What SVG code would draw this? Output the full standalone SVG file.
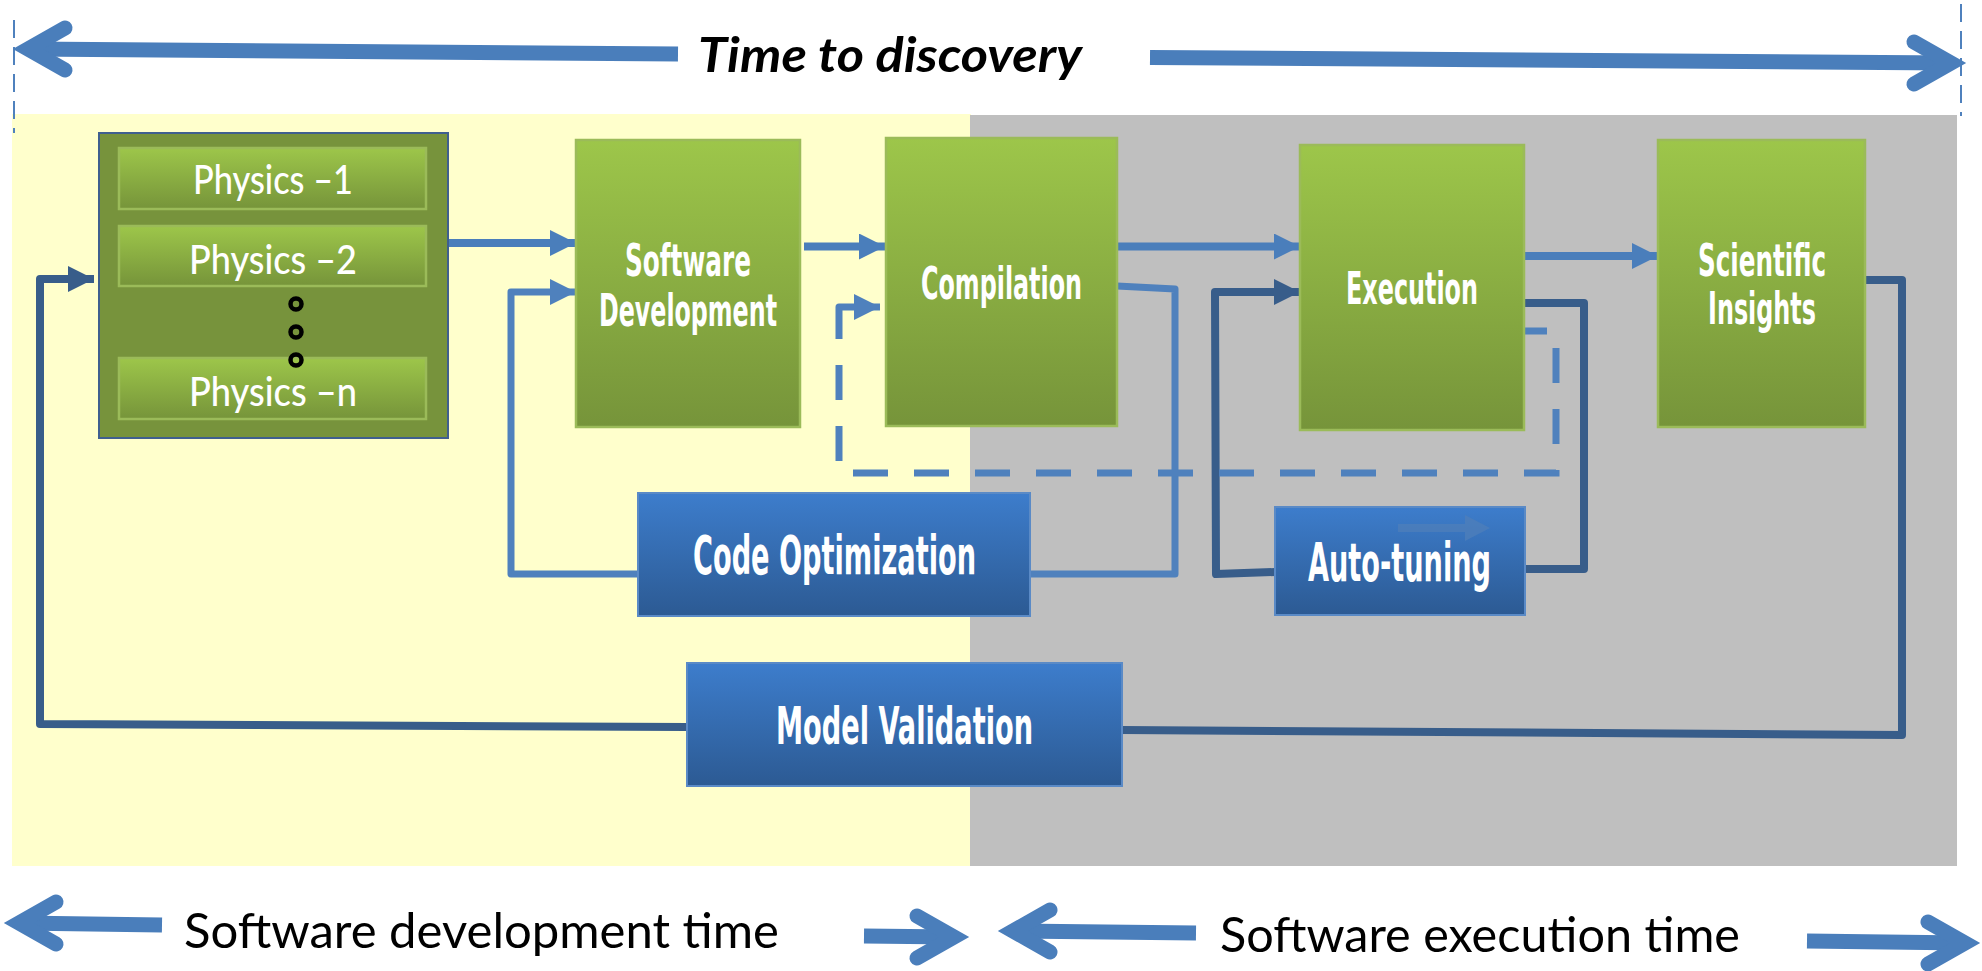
<svg xmlns="http://www.w3.org/2000/svg" width="1982" height="971" viewBox="0 0 1982 971">
  <style>
    .bigarrow { fill: none; stroke: #4A7EBB; stroke-width: 15; }
    .bigarrow-head { fill: none; stroke: #4A7EBB; stroke-width: 15; stroke-linejoin: miter; stroke-miterlimit: 10; stroke-linecap: round; }
    .guide { fill: none; stroke: #4F81BD; stroke-width: 2; stroke-dasharray: 18 9; }
    .flow { fill: none; stroke: #4A7EBB; stroke-width: 8; }
    .loop { fill: none; stroke: #4F81BD; stroke-width: 7; stroke-linejoin: round; }
    .dark { fill: none; stroke: #385D8A; stroke-width: 8; stroke-linejoin: round; }
    .dash { fill: none; stroke: #4F81BD; stroke-width: 7; stroke-dasharray: 35 26; }
    .green { fill: url(#gGreen); stroke: #9BBB59; stroke-width: 2.5; }
    .blue { fill: url(#gBlue); stroke: #5A8AC6; stroke-width: 2; }
    .lbl { fill: #FFFFFF; font-family: "Liberation Sans Narrow", "DejaVu Sans Condensed", "Roboto Condensed", sans-serif; font-weight: bold; font-stretch: condensed; }
    .phys { fill: #FFFFFF; font-family: Lato, "Open Sans", "Liberation Sans", sans-serif; font-size: 41px; font-weight: 500; }
    .axis { fill: #000000; font-family: Lato, "Open Sans", "Liberation Sans", sans-serif; font-size: 48px; }
    .dot { fill: none; stroke: #000000; stroke-width: 4.5; }
  </style>
  <defs>
    <linearGradient id="gGreen" x1="0" y1="0" x2="0" y2="1">
      <stop offset="0" stop-color="#9DC64A"/>
      <stop offset="1" stop-color="#76943A"/>
    </linearGradient>
    <linearGradient id="gBlue" x1="0" y1="0" x2="0" y2="1">
      <stop offset="0" stop-color="#3D7DCC"/>
      <stop offset="1" stop-color="#2C5A93"/>
    </linearGradient>
    <marker id="ahMid" markerUnits="userSpaceOnUse" markerWidth="26" markerHeight="26" refX="26" refY="13" orient="auto">
      <path d="M0,0 L26,13 L0,26 Z" fill="#4A7EBB"/>
    </marker>
    <marker id="ahLight" markerUnits="userSpaceOnUse" markerWidth="26" markerHeight="26" refX="26" refY="13" orient="auto">
      <path d="M0,0 L26,13 L0,26 Z" fill="#4F81BD"/>
    </marker>
    <marker id="ahDark" markerUnits="userSpaceOnUse" markerWidth="26" markerHeight="26" refX="26" refY="13" orient="auto">
      <path d="M0,0 L26,13 L0,26 Z" fill="#385D8A"/>
    </marker>
  </defs>

  <!-- phase backgrounds -->
  <rect x="12" y="114" width="959" height="752" fill="#FFFFCC"/>
  <rect x="970" y="115" width="987" height="751" fill="#BFBFBF"/>

  <!-- time-to-discovery axis -->
  <g id="axis-top">
    <line class="guide" x1="14" y1="20" x2="14" y2="133"/>
    <line class="guide" x1="1961" y1="4" x2="1961" y2="116"/>
    <path class="bigarrow" d="M28,49 L678,54"/>
    <polyline class="bigarrow-head" points="65,28 28,49 65,70"/>
    <path class="bigarrow" d="M1150,57.5 L1951,63"/>
    <polyline class="bigarrow-head" points="1914,42 1951,63 1914,84"/>
    <text x="698" y="72" font-family="Lato, 'Open Sans', 'Liberation Sans', sans-serif" font-size="48" font-weight="bold" font-style="italic" textLength="384" lengthAdjust="spacingAndGlyphs">Time to discovery</text>
  </g>

  <!-- phase axes at the bottom -->
  <g id="axis-bottom">
    <path class="bigarrow" d="M19,923 L162,925"/>
    <polyline class="bigarrow-head" points="56,902 19,923 56,944"/>
    <text class="axis" x="184" y="948" textLength="595" lengthAdjust="spacingAndGlyphs">Software development time</text>
    <path class="bigarrow" d="M864,936 L954,937"/>
    <polyline class="bigarrow-head" points="917,916 954,937 917,958"/>
    <path class="bigarrow" d="M1013,931 L1196,933"/>
    <polyline class="bigarrow-head" points="1050,910 1013,931 1050,952"/>
    <text class="axis" x="1220" y="952" textLength="520" lengthAdjust="spacingAndGlyphs">Software execution time</text>
    <path class="bigarrow" d="M1807,941 L1965,943"/>
    <polyline class="bigarrow-head" points="1928,922 1965,943 1928,964"/>
  </g>

  <!-- connectors -->
  <g id="connectors">
    <path class="flow" d="M448,243 H576" marker-end="url(#ahMid)"/>
    <path class="flow" d="M804,246.5 H885" marker-end="url(#ahMid)"/>
    <path class="flow" d="M1117,246.5 H1300" marker-end="url(#ahMid)"/>
    <path class="flow" d="M1524,256 H1658" marker-end="url(#ahMid)"/>

    <!-- compilation -> code optimization -> software development -->
    <path class="loop" d="M1117,286 L1175,289 L1175,574 L1030,574"/>
    <path class="loop" d="M638,574 L511,574 L511,292 L576,292" marker-end="url(#ahLight)"/>

    <!-- execution -> auto-tuning -> execution -->
    <path class="dark" d="M1524,303 L1584,303 L1584,569 L1525,569"/>
    <path class="dark" d="M1275,572 L1216,574 L1215,292 L1300,292" marker-end="url(#ahDark)"/>

    <!-- scientific insights -> model validation -> physics -->
    <path class="dark" d="M1866,280 L1902,280 L1902,735 L1122,730"/>
    <path class="dark" d="M687,727 L40,724 L40,279 L94,279" marker-end="url(#ahDark)"/>

    <!-- execution -> compilation feedback (dashed) -->
    <path class="dash" stroke-dashoffset="12" d="M1524,331 L1556,331 L1556,473 L839,473 L839,330"/>
    <path class="loop" stroke-linejoin="miter" d="M839,330 L839,307 L880,307" marker-end="url(#ahLight)"/>
  </g>

  <!-- physics models -->
  <g id="node-physics">
    <rect x="99" y="133" width="349" height="305" fill="#77933C" stroke="#3F5F8F" stroke-width="2"/>
    <rect class="green" x="119" y="148" width="307" height="61"/>
    <rect class="green" x="119" y="226" width="307" height="60"/>
    <rect class="green" x="119" y="358" width="307" height="61"/>
    <text class="phys" x="193" y="194" textLength="160" lengthAdjust="spacingAndGlyphs">Physics –1</text>
    <text class="phys" x="189" y="274" textLength="168" lengthAdjust="spacingAndGlyphs">Physics –2</text>
    <text class="phys" x="189" y="406" textLength="168" lengthAdjust="spacingAndGlyphs">Physics –n</text>
    <circle class="dot" cx="296" cy="304" r="5.5"/>
    <circle class="dot" cx="296" cy="332" r="5.5"/>
    <circle class="dot" cx="296" cy="360" r="5.5"/>
  </g>

  <g id="node-software-development">
    <rect class="green" x="576" y="140" width="224" height="287"/>
    <text class="lbl" x="625" y="276" font-size="45" textLength="126" lengthAdjust="spacingAndGlyphs">Software</text>
    <text class="lbl" x="599" y="326" font-size="45" textLength="178" lengthAdjust="spacingAndGlyphs">Development</text>
  </g>

  <g id="node-compilation">
    <rect class="green" x="886" y="138" width="231" height="288"/>
    <text class="lbl" x="921" y="299" font-size="45" textLength="161" lengthAdjust="spacingAndGlyphs">Compilation</text>
  </g>

  <g id="node-execution">
    <rect class="green" x="1300" y="145" width="224" height="285"/>
    <text class="lbl" x="1346" y="304" font-size="45" textLength="132" lengthAdjust="spacingAndGlyphs">Execution</text>
  </g>

  <g id="node-scientific-insights">
    <rect class="green" x="1658" y="140" width="207" height="287"/>
    <text class="lbl" x="1698" y="276" font-size="45" textLength="128" lengthAdjust="spacingAndGlyphs">Scientific</text>
    <text class="lbl" x="1708" y="324" font-size="45" textLength="108" lengthAdjust="spacingAndGlyphs">Insights</text>
  </g>

  <g id="node-code-optimization">
    <rect class="blue" x="638" y="493" width="392" height="123"/>
    <text class="lbl" x="693" y="574" font-size="53" textLength="283" lengthAdjust="spacingAndGlyphs">Code Optimization</text>
  </g>

  <g id="node-auto-tuning">
    <rect class="blue" x="1275" y="507" width="250" height="108"/>
    <g fill="#4F7FBA" opacity="0.75">
      <rect x="1398" y="524" width="67" height="8"/>
      <polygon points="1465,515 1490,528 1465,541"/>
    </g>
    <text class="lbl" x="1308" y="581" font-size="53" textLength="183" lengthAdjust="spacingAndGlyphs">Auto-tuning</text>
  </g>

  <g id="node-model-validation">
    <rect class="blue" x="687" y="663" width="435" height="123"/>
    <text class="lbl" x="776" y="744" font-size="52" textLength="257" lengthAdjust="spacingAndGlyphs">Model Validation</text>
  </g>
</svg>
